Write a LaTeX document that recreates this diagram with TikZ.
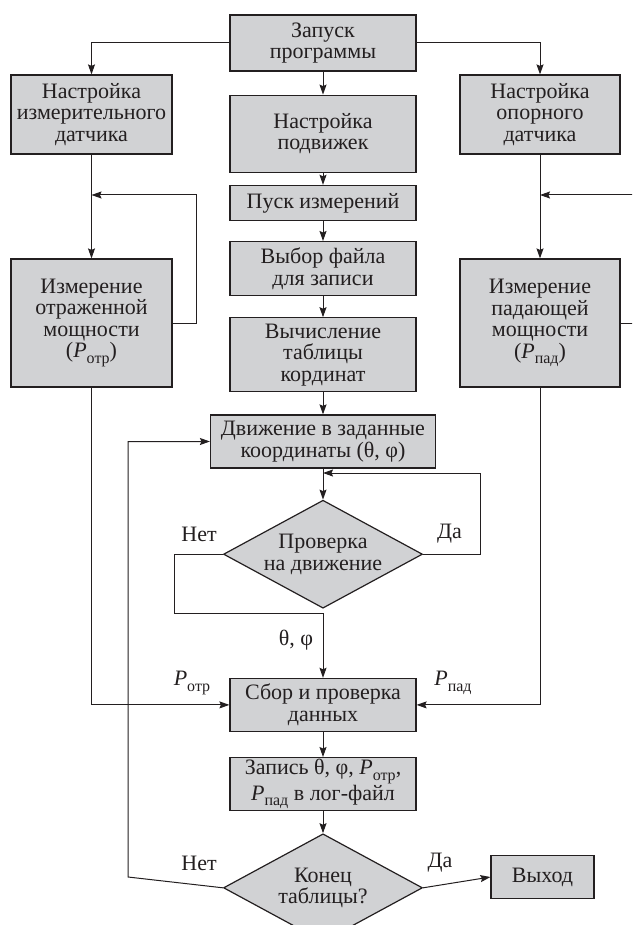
\documentclass[tikz,border=0pt]{standalone}
\usepackage{fontspec}
\setmainfont{Liberation Serif}
\usepackage{xcolor}
\usepackage{tikz}
\usetikzlibrary{arrows.meta,positioning,shapes.geometric}

\definecolor{boxgray}{HTML}{D1D2D4}
\definecolor{ink}{HTML}{231F20}
\newcommand{\Pidx}[1]{\textit{P}\raisebox{-0.55ex}{\fontsize{16}{16}\selectfont #1}}

\begin{document}
\begin{tikzpicture}[
    x=1pt, y=-1pt,
    font=\fontsize{22}{21.5}\selectfont,
    box/.style={draw=ink, line width=1.2pt, fill=boxgray, text=ink, align=center,
      inner sep=0pt, minimum width=186pt},
    decision/.style={diamond, draw=ink, line width=1.2pt, fill=boxgray, text=ink,
      align=center, inner sep=-4pt, shape aspect=1.84, minimum width=199pt,
      minimum height=108pt},
    arr/.style={-{Stealth[length=10pt,width=7pt,inset=1.5pt]}, line width=1pt, draw=ink},
    lbl/.style={text=ink, inner sep=0pt},
  ]
    \clip (0,0) rectangle (632,925);

    % --- main column ---
    \node[box, minimum height=56pt] (start) at (323,43) {Запуск\\программы};
    \node[box, minimum height=77pt, below=23pt of start] (stages) {Настройка\\подвижек};
    \node[box, minimum height=35pt, below=12pt of stages] (run) {Пуск измерений};
    \node[box, minimum height=54pt, below=20pt of run] (file) {Выбор файла\\для записи};
    \node[box, minimum height=74pt, below=21pt of file] (table)
      {Вычисление\\таблицы\\кординат};
    \node[box, minimum width=225pt, minimum height=53pt, below=22pt of table] (move)
      {Движение в заданные\\координаты (θ, φ)};
    \node[decision, below=31pt of move] (check) {Проверка\\на движение};
    \node[box, minimum height=53pt, below=69pt of check] (collect)
      {Сбор и проверка\\данных};
    \node[box, minimum height=53pt, below=25pt of collect] (log)
      {Запись θ, φ, \Pidx{отр},\\\Pidx{пад} в лог-файл};
    \node[decision, below=22pt of log] (endchk) {Конец\\таблицы?};
    \node[box, minimum width=103pt, minimum height=43pt] (exit) at (542.5,877) {Выход};

    % --- sensor columns ---
    \node[box, minimum width=161pt, minimum height=79pt] (setm) at (91.5,114.5)
      {Настройка\\измерительного\\датчика};
    \node[box, minimum width=161pt, minimum height=128pt] (measm) at (91.5,323)
      {Измерение\\отраженной\\мощности\\(\Pidx{отр})};
    \node[box, minimum width=160pt, minimum height=79pt] (setr) at (540,114.5)
      {Настройка\\опорного\\датчика};
    \node[box, minimum width=160pt, minimum height=128pt] (measr) at (540,323)
      {Измерение\\падающей\\мощности\\(\Pidx{пад})};

    \coordinate (mfb) at (91.5,195);
    \coordinate (rfb) at (540,195);
    \coordinate (chkjoin) at (323,473);
    \coordinate (nojoin) at (174,613);
    \coordinate (retcorner) at (128,877);

    \draw[arr] (start.west) -| (setm.north);
    \draw[arr] (start.east) -| (setr.north);
    \draw[arr] (start) -- (stages);
    \draw[arr] (stages) -- (run);
    \draw[arr] (run) -- (file);
    \draw[arr] (file) -- (table);
    \draw[arr] (table) -- (move);
    \draw[arr] (move) -- (check);
    \draw[arr] (collect) -- (log);
    \draw[arr] (log) -- (endchk);
    \draw[arr] (endchk.east) -- (exit.west);

    \draw[arr] (setm) -- (measm);
    \draw[arr] (setr) -- (measr);
    \draw[arr] (measm.east) -- ++(23.5,0) |- (mfb);
    \draw[arr] (measr.east) -- ++(30,0) |- (rfb);
    \draw[arr] (measm.south) |- (collect.west);
    \draw[arr] (measr.south) |- (collect.east);

    % loops of the decisions
    \draw[arr] (check.east) -- ++(57,0) |- (chkjoin);
    \draw[arr] (check.west) -| (nojoin) -| (collect.north);
    \draw[arr] (endchk.west) -- (retcorner) |- (move.west);

    \node[lbl] (no1) at (199,534) {Нет};
    \node[lbl] (yes1) at (449.5,534) {Да};
    \node[lbl] (angles) at (296,640) {θ, φ};
    \node[lbl] (potr) at (192,683) {\Pidx{отр}};
    \node[lbl] (ppad) at (453,683) {\Pidx{пад}};
    \node[lbl] (no2) at (199,863) {Нет};
    \node[lbl] (yes2) at (440,863) {Да};
  \end{tikzpicture}
\end{document}
